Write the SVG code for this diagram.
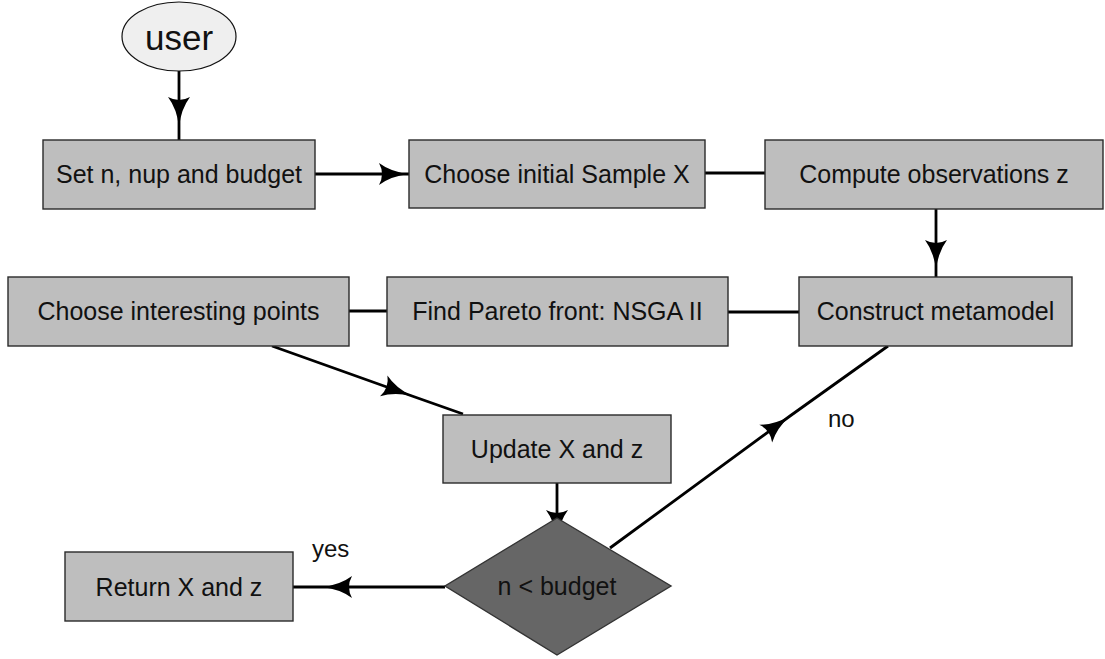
<svg xmlns="http://www.w3.org/2000/svg" width="1105" height="659" viewBox="0 0 1105 659">
<style>
.box{fill:#bebebe;stroke:#2a2a2a;stroke-width:1.4}
.t{font-family:"Liberation Sans",Arial,sans-serif;font-size:25px;fill:#111;text-anchor:middle}
.lbl{font-family:"Liberation Sans",Arial,sans-serif;font-size:24px;fill:#111}
.c{fill:none;stroke:#000;stroke-width:2.8}
</style>
<defs>
<marker id="ah" markerUnits="userSpaceOnUse" markerWidth="30" markerHeight="22" refX="30" refY="11" orient="auto" overflow="visible">
<path d="M0,0 Q6,11 0,22 Q12,13 30,11 Q12,9 0,0 Z" fill="#000"/>
</marker>
</defs>
<rect width="1105" height="659" fill="#fff"/>
<g id="connectors">
<polyline class="c" points="179,71 179,127 179,140" marker-mid="url(#ah)"/>
<line class="c" x1="315" y1="174" x2="409" y2="174" marker-end="url(#ah)"/>
<line class="c" x1="705" y1="173" x2="765" y2="173"/>
<polyline class="c" points="936,208 936,270 936,277" marker-mid="url(#ah)"/>
<line class="c" x1="728" y1="312" x2="799" y2="312"/>
<line class="c" x1="349" y1="311" x2="387" y2="311"/>
<polyline class="c" points="272,346 412,396 463,414" marker-mid="url(#ah)"/>
<line class="c" x1="557" y1="483" x2="557" y2="540" marker-end="url(#ah)"/>
<polyline class="c" points="445,587 322,587 293,587" marker-mid="url(#ah)"/>
<polyline class="c" points="610,548 790,416 888,346" marker-mid="url(#ah)"/>
<text class="lbl" x="312" y="557">yes</text>
<text class="lbl" x="828" y="427">no</text>
</g>
<g id="user">
<ellipse cx="179" cy="36.5" rx="57" ry="34.5" fill="#efefef" stroke="#111" stroke-width="1.2"/>
<text class="t" x="179" y="50" style="font-size:35px">user</text>
</g>
<g id="set">
<rect class="box" x="43" y="140" width="272" height="69"/>
<text class="t" x="179" y="183">Set n, nup and budget</text>
</g>
<g id="choose-initial">
<rect class="box" x="409" y="140" width="296" height="68"/>
<text class="t" x="557" y="183">Choose initial Sample X</text>
</g>
<g id="compute">
<rect class="box" x="765" y="140" width="338" height="69"/>
<text class="t" x="934" y="183">Compute observations z</text>
</g>
<g id="construct">
<rect class="box" x="799" y="277" width="273" height="69"/>
<text class="t" x="935.5" y="320">Construct metamodel</text>
</g>
<g id="find-pareto">
<rect class="box" x="387" y="277" width="341" height="69"/>
<text class="t" x="557.5" y="320">Find Pareto front: NSGA II</text>
</g>
<g id="choose-interesting">
<rect class="box" x="8" y="277" width="341" height="69"/>
<text class="t" x="178.5" y="320">Choose interesting points</text>
</g>
<g id="update">
<rect class="box" x="443" y="415" width="228" height="68"/>
<text class="t" x="557" y="458">Update X and z</text>
</g>
<g id="decision">
<polygon points="557,518 671,586 557,655 445,586" fill="#666" stroke="#333" stroke-width="1.4"/>
<text class="t" x="557" y="595">n &lt; budget</text>
</g>
<g id="return">
<rect class="box" x="65" y="552" width="228" height="69"/>
<text class="t" x="179" y="596">Return X and z</text>
</g>
</svg>
